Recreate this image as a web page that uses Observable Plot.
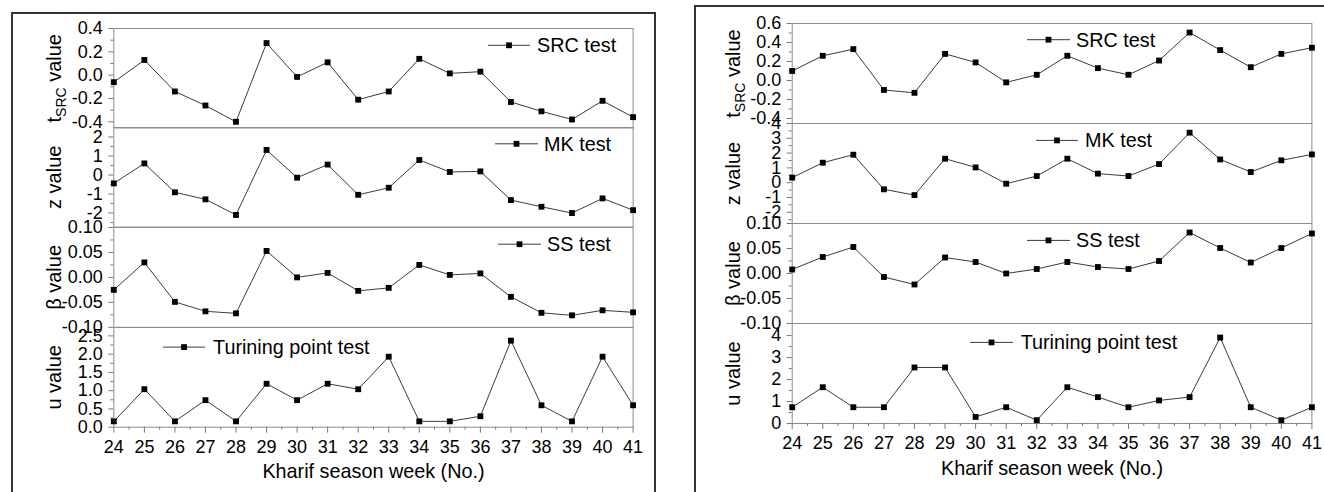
<!DOCTYPE html>
<html><head><meta charset="utf-8">
<script src="https://cdn.jsdelivr.net/npm/d3@7"></script>
<script src="https://cdn.jsdelivr.net/npm/@observablehq/plot@0.6"></script>
<style>
body{margin:0;background:#fff;}
#root{position:relative;width:1324px;height:492px;overflow:hidden;font-family:Arial,"Liberation Sans",sans-serif;background:#fff;}
#root svg{position:absolute;overflow:visible;}
.box{position:absolute;border:2px solid #333;box-sizing:border-box;}
</style></head><body><div id="root"></div>
<script>
// ---------- data ----------
const weeks = [24,25,26,27,28,29,30,31,32,33,34,35,36,37,38,39,40,41];
const halfWeeks = [24.5,25.5,26.5,27.5,28.5,29.5,30.5,31.5,32.5,33.5,34.5,35.5,36.5,37.5,38.5,39.5,40.5];

// left chart
const srcLeft = [-0.06, 0.13, -0.14, -0.26, -0.40, 0.275, -0.015, 0.11, -0.21, -0.14, 0.14, 0.015, 0.03, -0.23, -0.31, -0.38, -0.22, -0.36];
const mkLeft  = [-0.44, 0.61, -0.91, -1.28, -2.10, 1.32, -0.14, 0.55, -1.04, -0.67, 0.79, 0.16, 0.19, -1.32, -1.67, -2.00, -1.23, -1.85];
const ssLeft  = [-0.025, 0.030, -0.049, -0.068, -0.072, 0.053, 0.000, 0.009, -0.027, -0.021, 0.025, 0.005, 0.008, -0.039, -0.071, -0.076, -0.066, -0.070];
const tpLeft  = [0.16, 1.04, 0.16, 0.74, 0.16, 1.19, 0.74, 1.19, 1.04, 1.93, 0.16, 0.16, 0.30, 2.37, 0.60, 0.16, 1.93, 0.60];

// right chart
const srcRight = [0.10, 0.26, 0.33, -0.10, -0.13, 0.28, 0.19, -0.02, 0.06, 0.26, 0.13, 0.06, 0.21, 0.505, 0.32, 0.14, 0.28, 0.345];
const mkRight  = [0.34, 1.35, 1.89, -0.45, -0.84, 1.62, 1.03, -0.07, 0.45, 1.62, 0.61, 0.45, 1.26, 3.38, 1.57, 0.72, 1.51, 1.91];
const ssRight  = [0.008, 0.033, 0.053, -0.007, -0.022, 0.032, 0.023, 0.000, 0.009, 0.023, 0.013, 0.009, 0.025, 0.082, 0.051, 0.022, 0.051, 0.080];
const tpRight  = [0.74, 1.65, 0.74, 0.74, 2.55, 2.55, 0.30, 0.74, 0.15, 1.65, 1.20, 0.74, 1.05, 1.20, 3.91, 0.74, 0.15, 0.74];

// tick values
const srcTicksLeft = [-0.4, -0.2, 0, 0.2, 0.4];
const srcMinorLeft = [-0.3, -0.1, 0.1, 0.3];
const mkTicksLeft = [-2, -1, 0, 1, 2];
const mkMinorLeft = [-2.5, -1.5, -0.5, 0.5, 1.5];
const ssTicks = [-0.10, -0.05, 0, 0.05, 0.10];
const ssMinor = [-0.075, -0.025, 0.025, 0.075];
const tpTicksLeft = [0, 0.5, 1, 1.5, 2, 2.5];
const tpMinorLeft = [0.25, 0.75, 1.25, 1.75, 2.25];
const srcTicksRight = [-0.4, -0.2, 0, 0.2, 0.4, 0.6];
const srcMinorRight = [-0.3, -0.1, 0.1, 0.3, 0.5];
const mkTicksRight = [-2, -1, 0, 1, 2, 3, 4];
const mkMinorRight = [-2.5, -1.5, -0.5, 0.5, 1.5, 2.5, 3.5];
const tpTicksRight = [0, 1, 2, 3, 4];
const tpMinorRight = [0.5, 1.5, 2.5, 3.5];

const testNames = ["SRC test", "MK test", "SS test", "Turining point test"];
const yTitles = ["tSRC value", "z value", "\u03B2 value", "u value"];
const xTitle = "Kharif season week (No.)";

// ---------- layout ----------
const root = document.getElementById("root");
const FONT = "Arial, 'Liberation Sans', sans-serif";

function addBox(l, t, w, h) {
  const d = document.createElement("div");
  d.className = "box";
  Object.assign(d.style, {left: l + "px", top: t + "px", width: w + "px", height: h + "px"});
  root.appendChild(d);
}
addBox(11, 12, 645, 520);
addBox(694, 5, 700, 520);

const fmt1 = d => d.toFixed(1), fmt2 = d => d.toFixed(2), fmt0 = d => d.toFixed(0);

const panels = [
  {
    plotLeft: 113.3, plotRight: 632.6, bounds: [27.7, 127.2, 226.8, 326.6, 426.3],
    subs: [
      {values: srcLeft, domain: [-0.453, 0.4], ticks: srcTicksLeft, minor: srcMinorLeft, fmt: fmt1, leg: [488, 530, 537, 45]},
      {values: mkLeft, domain: [-2.74, 2.5], ticks: mkTicksLeft, minor: mkMinorLeft, fmt: fmt0, leg: [495, 538, 544, 144]},
      {values: ssLeft, domain: [-0.1, 0.1], ticks: ssTicks, minor: ssMinor, fmt: fmt2, leg: [498, 541, 547, 244]},
      {values: tpLeft, domain: [0, 2.73], ticks: tpTicksLeft, minor: tpMinorLeft, fmt: fmt1, leg: [163, 205, 213, 346.7]}
    ]
  },
  {
    plotLeft: 791.7, plotRight: 1311.4, bounds: [23.3, 123.3, 223.3, 323.3, 423.3],
    subs: [
      {values: srcRight, domain: [-0.453, 0.6], ticks: srcTicksRight, minor: srcMinorRight, fmt: fmt1, leg: [1027, 1070, 1076, 40]},
      {values: mkRight, domain: [-2.76, 4], ticks: mkTicksRight, minor: mkMinorRight, fmt: fmt0, leg: [1036, 1078, 1085, 140.7]},
      {values: ssRight, domain: [-0.1, 0.1], ticks: ssTicks, minor: ssMinor, fmt: fmt2, leg: [1027, 1070, 1076, 240.7]},
      {values: tpRight, domain: [0, 4.55], ticks: tpTicksRight, minor: tpMinorRight, fmt: fmt0, leg: [970, 1013, 1020.7, 342.7]}
    ]
  }
];

const W = 1324;
panels.forEach(p => {
  p.subs.forEach((s, i) => {
    const top = p.bounds[i], bottom = p.bounds[i + 1];
    const isBottom = i === 3;
    const mt = 12, mb = isBottom ? 70 : 12;
    const height = (bottom - top) + mt + mb;
    const data = weeks.map((w, k) => ({week: w, v: s.values[k]}));
    const marks = [
      Plot.frame({stroke: "#8c8c8c", strokeWidth: 1}),
      Plot.axisY({ticks: s.ticks, tickSize: 5, tickPadding: 6, tickFormat: s.fmt, label: null, stroke: "#777", fontSize: 18}),
      Plot.axisY({ticks: s.minor, tickSize: 3, tickFormat: () => "", label: null, stroke: "#777"}),
      Plot.text([yTitles[i]], {text: d => d, frameAnchor: "left", rotate: -90, dx: -59, fontSize: 20, lineAnchor: "middle", textAnchor: "middle", fill: "#000"}),
      Plot.line(data, {x: "week", y: "v", stroke: "#3a3a3a", strokeWidth: 1}),
      Plot.dot(data, {x: "week", y: "v", symbol: "square", r: 3.3, fill: "#000", stroke: null})
    ];
    if (isBottom) {
      marks.push(
        Plot.axisX({ticks: weeks, tickSize: 6, tickPadding: 7, tickFormat: d => String(d), label: null, stroke: "#777", fontSize: 18}),
        Plot.axisX({ticks: halfWeeks, tickSize: 3, tickFormat: () => "", label: null, stroke: "#777"}),
        Plot.text([xTitle], {text: d => d, frameAnchor: "bottom", dy: 37, lineAnchor: "top", fontSize: 19.8, fill: "#000"})
      );
    }
    const svg = Plot.plot({
      width: W, height,
      marginLeft: p.plotLeft, marginRight: W - p.plotRight,
      marginTop: mt, marginBottom: mb,
      style: {background: "transparent", overflow: "visible", fontFamily: FONT, fontSize: "18px", color: "#000"},
      x: {domain: [24, 41], axis: null},
      y: {domain: s.domain, axis: null},
      marks
    });
    svg.style.left = "0px";
    svg.style.top = (top - mt) + "px";
    // legend
    const [x1, x2, tx, yc] = s.leg;
    const y = yc - (top - mt);
    const g = d3.select(svg).append("g");
    g.append("line").attr("x1", x1).attr("x2", x2).attr("y1", y).attr("y2", y).attr("stroke", "#3a3a3a").attr("stroke-width", 1);
    g.append("rect").attr("x", (x1 + x2) / 2 - 2.9).attr("y", y - 2.9).attr("width", 5.8).attr("height", 5.8).attr("fill", "#000");
    g.append("text").attr("x", tx).attr("y", y + 7).attr("text-anchor", "start").attr("font-size", 19.8).attr("fill", "#000").text(testNames[i]);
    // subscript for tSRC
    d3.select(svg).selectAll("text").filter(function () { return this.textContent === "tSRC value"; }).each(function () {
      const t = d3.select(this);
      t.text(null);
      t.append("tspan").text("t");
      t.append("tspan").attr("dy", 5).attr("font-size", 14).text("SRC");
      t.append("tspan").attr("dy", -5).text(" value");
    });
    root.appendChild(svg);
  });
});
</script></body></html>
